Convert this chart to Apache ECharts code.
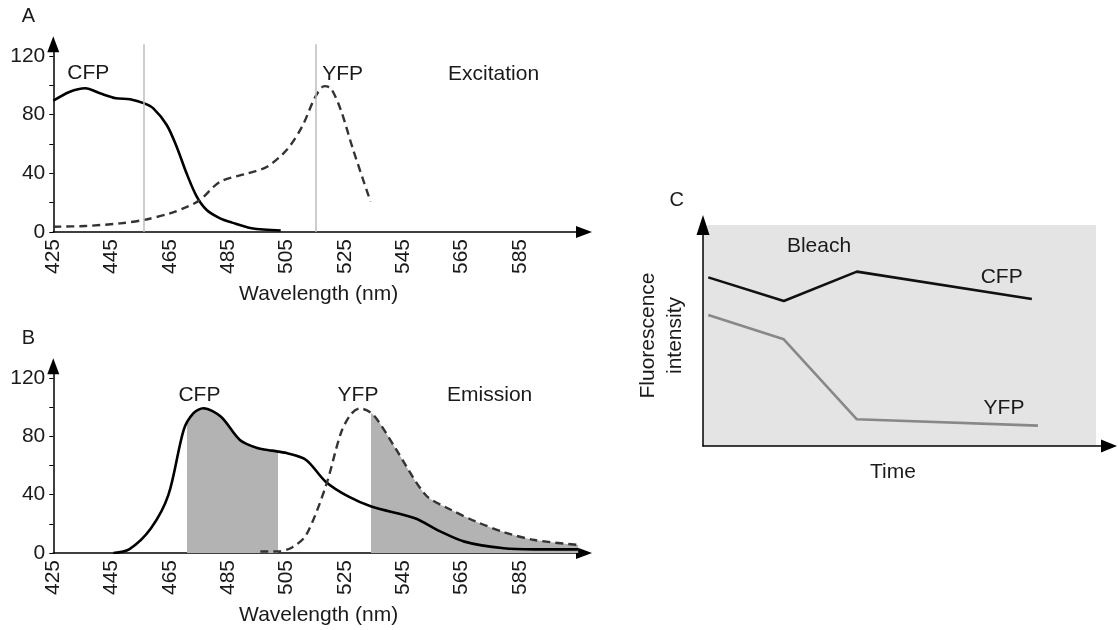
<!DOCTYPE html>
<html>
<head>
<meta charset="utf-8">
<script src="https://cdn.jsdelivr.net/npm/echarts@6/dist/echarts.min.js"></script>
<style>
html,body{margin:0;padding:0;background:#fff;}
#chart{width:1118px;height:630px;}
</style>
</head>
<body>
<div id="chart"></div>
<script>
// ---- data ----
const wavelengthTicks = [425, 445, 465, 485, 505, 525, 545, 565, 585];
const intensityTicks = [0, 20, 40, 60, 80, 100, 120];
const intensityLabels = [0, 40, 80, 120];
const laserLines = [456, 515];

// Panel A: excitation spectra [wavelength, intensity]
const cfpExcitation = [[425,89.5],[430.5,95.5],[436,98],[441,94.6],[446.5,91.2],[451.3,90.5],[456.2,87.7],[459.3,84.3],[463.9,73],[467.3,58.2],[470.7,40],[474.2,24.1],[477.6,15],[482.2,9.3],[486.3,6.4],[493,2.5],[503,1]];
const yfpExcitation = [[425,3.6],[436,4.1],[448,5.9],[456,8.2],[465,12.7],[471,17.3],[475.3,21.8],[482.2,34.3],[491.7,40],[498.3,44.5],[505,55.9],[510.3,71.8],[514.9,92.3],[518,99.5],[520.2,98],[523.6,83.2],[527.5,58.2],[530.9,37.7],[533.8,20.7]];

// Panel B: emission spectra
const cfpEmission = [[445.6,0],[451,2.5],[458.5,17],[464.5,40],[469.7,84.3],[473,95.7],[476.5,99.2],[482.5,93.4],[489,77.5],[495,72],[500,70.2],[505,68.5],[511.7,63.8],[518.4,48.9],[526.3,38.6],[534.3,31.7],[549,23.8],[557.5,15],[566,7.8],[579.5,3.2],[590,2.5],[605,2.5]];
const yfpEmission = [[496,1],[502.4,1.1],[507,4],[511.7,12.3],[518.4,45.5],[523.6,82],[527,95],[530.2,99.1],[534.8,94.6],[542,72.9],[552.7,39.8],[561,30],[570,21.5],[580,14],[590,8.9],[605,5.5]];
const cfpWindow = [470.7, 502.1];
const yfpWindow = [534, 610];

// Panel C: time course
const cfpTime = [0.13, 1.99, 3.79, 8.10];
const cfpIntensity = [76.3, 65.6, 78.9, 66.5];
const yfpTime = [0.13, 1.99, 3.79, 8.25];
const yfpIntensity = [59.3, 48.3, 12.1, 9.2];
const backgroundEnd = 9.68;

// ---- chart ----
const FONT = '"Liberation Sans", Arial, Helvetica, sans-serif';
const TXT = '#1a1a1a';
const pairs = (xs, ys) => xs.map((x, i) => [x, ys[i]]);

function wlAxis(gi) {
  return {
    type: 'value', gridIndex: gi, min: 425, max: 607,
    name: 'Wavelength (nm)', nameLocation: 'middle', nameGap: 52,
    nameTextStyle: {fontSize: 21, color: TXT, fontFamily: FONT},
    axisLine: {show: true, symbol: ['none', 'triangle'], symbolSize: [12, 16], lineStyle: {color: '#000', width: 1.5}},
    axisTick: {show: false},
    splitLine: {show: false},
    axisLabel: {customValues: wavelengthTicks, rotate: 90, fontSize: 21, margin: 7, color: TXT, fontFamily: FONT}
  };
}
function intAxis(gi) {
  return {
    type: 'value', gridIndex: gi, min: 0, max: 128,
    axisLine: {show: true, symbol: ['none', 'triangle'], symbolSize: [12, 16], lineStyle: {color: '#000', width: 1.5}},
    axisTick: {show: true, customValues: intensityTicks, length: 4, lineStyle: {color: '#000', width: 1}},
    splitLine: {show: false},
    axisLabel: {customValues: intensityLabels, fontSize: 21, margin: 8, color: TXT, fontFamily: FONT}
  };
}
function txt(text, x, y, size) {
  return {type: 'text', x: x, y: y, z: 100, style: {text: text, align: 'center', verticalAlign: 'middle', fontSize: size || 21, fontFamily: FONT, fill: TXT}};
}

const chart = echarts.init(document.getElementById('chart'), null, {renderer: 'canvas'});
chart.setOption({
  animation: false,
  backgroundColor: '#fff',
  textStyle: {fontFamily: FONT},
  grid: [
    {left: 53.3, top: 44.3, width: 530.7, height: 187.7},
    {left: 53.3, top: 366.3, width: 530.7, height: 186.7},
    {left: 703, top: 225, width: 406, height: 221}
  ],
  xAxis: [
    wlAxis(0), wlAxis(1),
    {
      type: 'value', gridIndex: 2, min: 0, max: 10, z: 5,
      name: 'Time', nameLocation: 'middle', nameGap: 16,
      nameTextStyle: {fontSize: 21, color: TXT, fontFamily: FONT, padding: [0, 26, 0, 0]},
      axisLine: {show: true, symbol: ['none', 'triangle'], symbolSize: [13, 16], lineStyle: {color: '#000', width: 1.5}},
      axisTick: {show: false}, axisLabel: {show: false}, splitLine: {show: false}
    }
  ],
  yAxis: [
    intAxis(0), intAxis(1),
    {
      type: 'value', gridIndex: 2, min: 0, max: 100, z: 5,
      name: 'Fluorescence\nintensity', nameLocation: 'middle', nameGap: 14,
      nameTextStyle: {fontSize: 21, color: TXT, fontFamily: FONT, lineHeight: 27},
      axisLine: {show: true, symbol: ['none', 'triangle'], symbolSize: [13, 20], lineStyle: {color: '#000', width: 1.5}},
      axisTick: {show: false}, axisLabel: {show: false}, splitLine: {show: false}
    }
  ],
  visualMap: [
    {type: 'piecewise', show: false, seriesIndex: 2, dimension: 0,
     pieces: [{gte: cfpWindow[0], lte: cfpWindow[1], color: '#b3b3b3'}],
     outOfRange: {color: 'rgba(179,179,179,0)'}},
    {type: 'piecewise', show: false, seriesIndex: 3, dimension: 0,
     pieces: [{gte: yfpWindow[0], lte: yfpWindow[1], color: '#b3b3b3'}],
     outOfRange: {color: 'rgba(179,179,179,0)'}}
  ],
  series: [
    {type: 'line', name: 'CFP excitation', xAxisIndex: 0, yAxisIndex: 0, data: cfpExcitation, smooth: 0.3,
     showSymbol: false, z: 3, lineStyle: {color: '#000', width: 2.6},
     markLine: {silent: true, symbol: ['none', 'none'], label: {show: false},
       lineStyle: {color: '#bdbdbd', width: 1.5, type: 'solid'},
       data: laserLines.map(v => ({xAxis: v}))}},
    {type: 'line', name: 'YFP excitation', xAxisIndex: 0, yAxisIndex: 0, data: yfpExcitation, smooth: 0.3,
     showSymbol: false, z: 3, lineStyle: {color: '#333', width: 2.4, type: [8, 5]}},
    {type: 'line', name: 'CFP window', xAxisIndex: 1, yAxisIndex: 1, data: cfpEmission, smooth: 0.3,
     showSymbol: false, z: 1, lineStyle: {opacity: 0}, areaStyle: {opacity: 1}},
    {type: 'line', name: 'YFP window', xAxisIndex: 1, yAxisIndex: 1, data: yfpEmission, smooth: 0.3,
     showSymbol: false, z: 1, lineStyle: {opacity: 0}, areaStyle: {opacity: 1}},
    {type: 'line', name: 'CFP emission', xAxisIndex: 1, yAxisIndex: 1, data: cfpEmission, smooth: 0.3,
     showSymbol: false, z: 3, lineStyle: {color: '#000', width: 2.6}},
    {type: 'line', name: 'YFP emission', xAxisIndex: 1, yAxisIndex: 1, data: yfpEmission, smooth: 0.3,
     showSymbol: false, z: 3, lineStyle: {color: '#333', width: 2.4, type: [8, 5]}},
    {type: 'line', name: 'CFP', xAxisIndex: 2, yAxisIndex: 2, data: pairs(cfpTime, cfpIntensity),
     showSymbol: false, z: 3, lineStyle: {color: '#111', width: 2.6},
     markArea: {silent: true, itemStyle: {color: '#e4e4e4'},
       data: [[{xAxis: 0, yAxis: 0}, {xAxis: backgroundEnd, yAxis: 100}]]}},
    {type: 'line', name: 'YFP', xAxisIndex: 2, yAxisIndex: 2, data: pairs(yfpTime, yfpIntensity),
     showSymbol: false, z: 3, lineStyle: {color: '#888', width: 2.6}}
  ],
  graphic: [
    txt('A', 28.3, 16.7, 20),
    txt('CFP', 88.3, 73.3), txt('YFP', 342.6, 74), txt('Excitation', 493.6, 74),
    txt('B', 28.3, 338.3, 20),
    txt('CFP', 199.4, 395.7), txt('YFP', 358, 395.7), txt('Emission', 489.7, 395.7),
    txt('C', 676.7, 200, 20),
    txt('Bleach', 819, 246.7), txt('CFP', 1001.7, 277.3), txt('YFP', 1004, 408.3)
  ]
});
</script>
</body>
</html>
